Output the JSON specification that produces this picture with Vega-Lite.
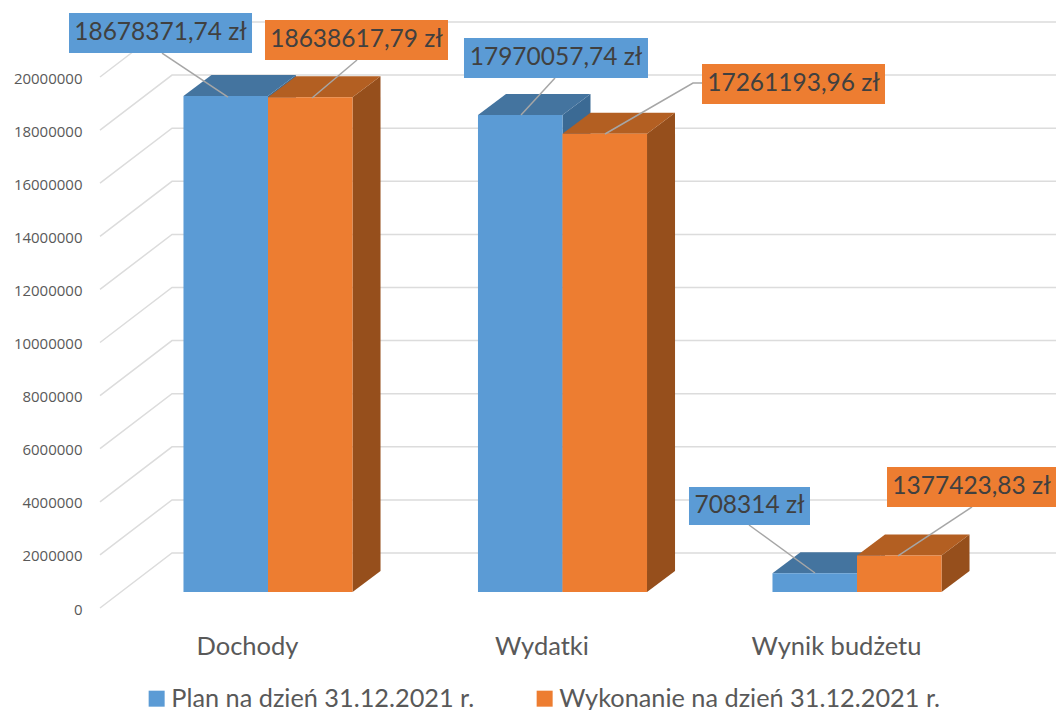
{
"$schema":"https://vega.github.io/schema/vega-lite/v6.json",
"width":1056,"height":710,"padding":0,"autosize":{"type":"none"},
"background":"white",
"config":{"view":{"stroke":null},"font":"Lato"},
"data":{"values":[
{"kategoria":"Dochody","seria":"Plan na dzień 31.12.2021 r.","wartosc":18678371.74,"etykieta":"18678371,74 zł"},
{"kategoria":"Dochody","seria":"Wykonanie na dzień 31.12.2021 r.","wartosc":18638617.79,"etykieta":"18638617,79 zł"},
{"kategoria":"Wydatki","seria":"Plan na dzień 31.12.2021 r.","wartosc":17970057.74,"etykieta":"17970057,74 zł"},
{"kategoria":"Wydatki","seria":"Wykonanie na dzień 31.12.2021 r.","wartosc":17261193.96,"etykieta":"17261193,96 zł"},
{"kategoria":"Wynik budżetu","seria":"Plan na dzień 31.12.2021 r.","wartosc":708314,"etykieta":"708314 zł"},
{"kategoria":"Wynik budżetu","seria":"Wykonanie na dzień 31.12.2021 r.","wartosc":1377423.83,"etykieta":"1377423,83 zł"}
]},
"transform":[
{"calculate":"indexof(['Dochody','Wydatki','Wynik budżetu'],datum.kategoria)","as":"i"},
{"calculate":"indexof(datum.seria,'Plan')==0?0:1","as":"s"},
{"calculate":"datum.i*2+datum.s","as":"id"},
{"calculate":"datum.i-0.287+0.287*datum.s","as":"xl"},
{"calculate":"datum.xl+0.287","as":"xr"},
{"calculate":"datum.s==0?'#3b6a94':'#964f1c'","as":"sideColor"},
{"calculate":"datum.s==0?'#44749f':'#b35f22'","as":"topColor"},
{"calculate":"datum.s==0?'#5b9bd5':'#ed7d31'","as":"boxColor"}
],
"layer":[
{"data":{"values":[{"t":0},{"t":2000000},{"t":4000000},{"t":6000000},{"t":8000000},{"t":10000000},{"t":12000000},{"t":14000000},{"t":16000000},{"t":18000000},{"t":20000000}]},
 "transform":[
  {"calculate":"[0,1,2]","as":"k"},{"flatten":["k"]},
  {"calculate":"datum.k==0?-0.57046:(datum.k==1?-0.32598:2.67572)","as":"gx"},
  {"calculate":"datum.t+(datum.k==0?-603000:1469000)","as":"gy"}
 ],
 "mark":{"type":"line","stroke":"#dcdcdc","strokeWidth":1.5,"clip":false},
 "encoding":{
  "detail":{"field":"t"},
  "x":{"field":"gx","type":"quantitative","scale":{"domain":[-0.91002,2.67572],"nice":false,"zero":false},
   "axis":{"title":null,"values":[0,1,2],"labelExpr":"['Dochody','Wydatki','Wynik budżetu'][datum.value]","grid":false,"domain":false,"ticks":false,"labelPadding":-76,"labelOffset":-21,"labelFontSize":25.5,"labelFont":"Lato","labelColor":"#595959"}},
  "y":{"field":"gy","type":"quantitative","scale":{"domain":[-4444440,22297600],"nice":false,"zero":false},
   "axis":{"title":null,"values":[0,2000000,4000000,6000000,8000000,10000000,12000000,14000000,16000000,18000000,20000000],"format":"d","grid":false,"domain":false,"ticks":false,"labelPadding":-82,"labelOffset":17,"labelFontSize":15,"labelFont":"Open Sans","labelColor":"#595959"}}
 }},
{"transform":[
  {"calculate":"[0,1]","as":"k"},{"flatten":["k"]},
  {"calculate":"datum.xr+0.0951*datum.k","as":"px"},
  {"calculate":"datum.wartosc+791000*datum.k","as":"py"},
  {"calculate":"791000*datum.k","as":"py2"}
 ],
 "mark":{"type":"area","orient":"vertical","line":false},
 "encoding":{
  "detail":{"field":"id"},
  "x":{"field":"px","type":"quantitative"},
  "y":{"field":"py","type":"quantitative","stack":null},
  "y2":{"field":"py2"},
  "fill":{"field":"sideColor","type":"nominal","scale":null,"legend":null}
 }},
{"transform":[
  {"calculate":"[0,1]","as":"k"},{"flatten":["k"]},
  {"calculate":"datum.xl+0.0951*datum.k","as":"px"},
  {"calculate":"datum.xr+0.0951*datum.k","as":"px2"},
  {"calculate":"datum.wartosc+791000*datum.k","as":"py"}
 ],
 "mark":{"type":"area","orient":"horizontal"},
 "encoding":{
  "detail":{"field":"id"},
  "y":{"field":"py","type":"quantitative"},
  "x":{"field":"px","type":"quantitative","stack":null},
  "x2":{"field":"px2"},
  "fill":{"field":"topColor","type":"nominal","scale":null,"legend":null}
 }},
{"mark":{"type":"rect"},
 "encoding":{
  "x":{"field":"xl","type":"quantitative"},
  "x2":{"field":"xr"},
  "y":{"field":"wartosc","type":"quantitative"},
  "y2":{"datum":0},
  "color":{"field":"seria","type":"nominal","scale":{"domain":["Plan na dzień 31.12.2021 r.","Wykonanie na dzień 31.12.2021 r."],"range":["#5b9bd5","#ed7d31"]},
   "legend":{"title":null,"orient":"none","legendX":144,"legendY":686,"direction":"horizontal","symbolType":"square","symbolSize":256,"symbolStrokeWidth":0,"labelFontSize":25.3,"labelFont":"Lato","labelColor":"#595959","labelOffset":2,"columnPadding":57,"padding":0,"labelLimit":500}}
 }},
{"transform":[
  {"calculate":"[[[-0.3599,20.301],[-0.1358,18.644]],[[0.3022,20.038],[0.1494,18.606]],[[0.9745,19.360],[0.8591,17.966]],[[1.4737,19.171],[1.4431,19.171],[1.1443,17.250]],[[1.6333,2.524],[1.8574,0.716]],[[2.3905,3.202],[2.1392,1.356]]][datum.id]","as":"pt"},
  {"flatten":["pt"]},
  {"calculate":"datum.pt[0]","as":"lx"},
  {"calculate":"datum.pt[1]*1000000","as":"ly"}
 ],
 "mark":{"type":"line","stroke":"#a6a6a6","strokeWidth":1.5},
 "encoding":{
  "detail":{"field":"id"},
  "x":{"field":"lx","type":"quantitative"},
  "y":{"field":"ly","type":"quantitative"}
 }},
{"transform":[
  {"calculate":"[[-0.6757,-0.0543,21.808,20.301],[-0.0102,0.6112,21.544,20.038],[0.6655,1.2903,20.866,19.360],[1.4737,2.0951,19.887,18.380],[1.4295,1.8404,3.955,2.524],[2.1019,2.67572,4.708,3.202]][datum.id]","as":"b"},
  {"calculate":"datum.b[0]","as":"b0"},
  {"calculate":"datum.b[1]","as":"b1"},
  {"calculate":"datum.b[2]*1000000","as":"b2"},
  {"calculate":"datum.b[3]*1000000","as":"b3"}
 ],
 "mark":{"type":"rect"},
 "encoding":{
  "x":{"field":"b0","type":"quantitative"},
  "x2":{"field":"b1"},
  "y":{"field":"b2","type":"quantitative"},
  "y2":{"field":"b3"},
  "fill":{"field":"boxColor","type":"nominal","scale":null,"legend":null}
 }},
{"transform":[
  {"calculate":"[[-0.6757,-0.0543,21.808,20.301],[-0.0102,0.6112,21.544,20.038],[0.6655,1.2903,20.866,19.360],[1.4737,2.0951,19.887,18.380],[1.4295,1.8404,3.955,2.524],[2.1019,2.67572,4.708,3.202]][datum.id]","as":"b"},
  {"calculate":"(datum.b[0]+datum.b[1])/2","as":"tx"},
  {"calculate":"(datum.b[2]+datum.b[3])*500000","as":"ty"}
 ],
 "mark":{"type":"text","align":"center","baseline":"middle","font":"Lato","fontSize":24.5,"color":"#404040"},
 "encoding":{
  "x":{"field":"tx","type":"quantitative"},
  "y":{"field":"ty","type":"quantitative"},
  "text":{"field":"etykieta"}
 }}
]
}
